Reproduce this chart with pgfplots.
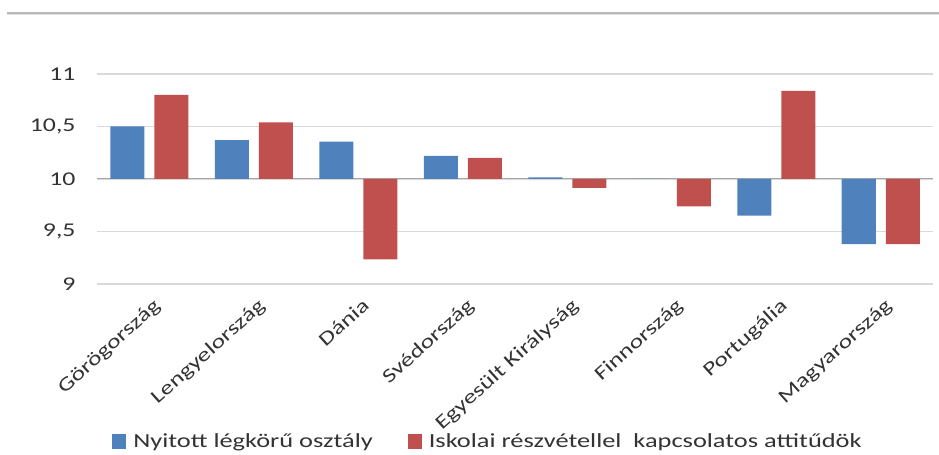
\documentclass[border=0pt]{standalone}
\usepackage{pgfplots}
\usepackage{pgfplotstable}
\pgfplotsset{compat=1.18}
\usepackage{fontspec}
\setmainfont{Carlito}[FakeStretch=1.32]
\definecolor{cblue}{HTML}{4F81BD}
\definecolor{cred}{HTML}{C0504D}
\definecolor{txt}{HTML}{333333}
\newcommand\lbl{\fontsize{19.5bp}{23bp}\selectfont}
\newcommand\leg{\fontsize{20bp}{24bp}\selectfont}
\pgfplotstableread{
x a b
0 10.50 10.80
1 10.37 10.54
2 10.355 9.235
3 10.22 10.20
4 10.016 9.915
5 10.00 9.74
6 9.65 10.84
7 9.38 9.38
}\data
\begin{document}
\begin{tikzpicture}
\path[use as bounding box] (0,0) rectangle (939bp,455bp);
\draw[gray!55, line width=2.2bp] (7bp,442bp) -- (939bp,442bp);
\draw[gray!25, line width=1bp] (7bp,440bp) -- (939bp,440bp);
\begin{axis}[
  at={(97bp,171bp)}, anchor=south west,
  scale only axis, width=836bp, height=210bp,
  xmin=-0.5, xmax=7.5, ymin=-1, ymax=1,
  y filter/.expression={y-10},
  ybar=10bp, bar width=34bp,
  axis line style={draw=none},
  major tick length=0pt,
  ytick={-1,-0.5,0,0.5,1},
  yticklabels={9,{9,5},10,{10,5},11},
  ymajorgrids, major grid style={draw=gray!30, line width=1.4bp},
  extra y ticks={0}, extra y tick labels={},
  extra y tick style={major grid style={draw=gray!70, line width=1bp}},
  xtick=data,
  xticklabels={Görögország,Lengyelország,Dánia,Svédország,Egyesült Királyság,Finnország,Portugália,Magyarország},
  yticklabel style={font=\lbl, text=txt, xshift=-18bp},
  xticklabel style={font=\lbl, text=txt, inner sep=0pt, xshift=3bp, yshift=-13bp,
    rotate=42, anchor=north east},
  legend style={at={(0.018,-0.75)}, anchor=west, draw=none, fill=none,
    font=\leg, text=txt, legend columns=2, inner sep=0pt,
    nodes={inner sep=0pt},
    /tikz/every odd column/.append style={column sep=7bp},
    /tikz/every even column/.append style={column sep=35bp}},
  legend image code/.code={\fill[#1] (0bp,-7bp) rectangle (14bp,7bp);},
]
\addplot[fill=cblue, draw=none] table[x=x, y=a] {\data};
\addplot[fill=cred, draw=none] table[x=x, y=b] {\data};
\legend{Nyitott légkörű osztály, Iskolai részvétellel\ \ kapcsolatos attitűdök}
\end{axis}
\end{tikzpicture}
\end{document}
